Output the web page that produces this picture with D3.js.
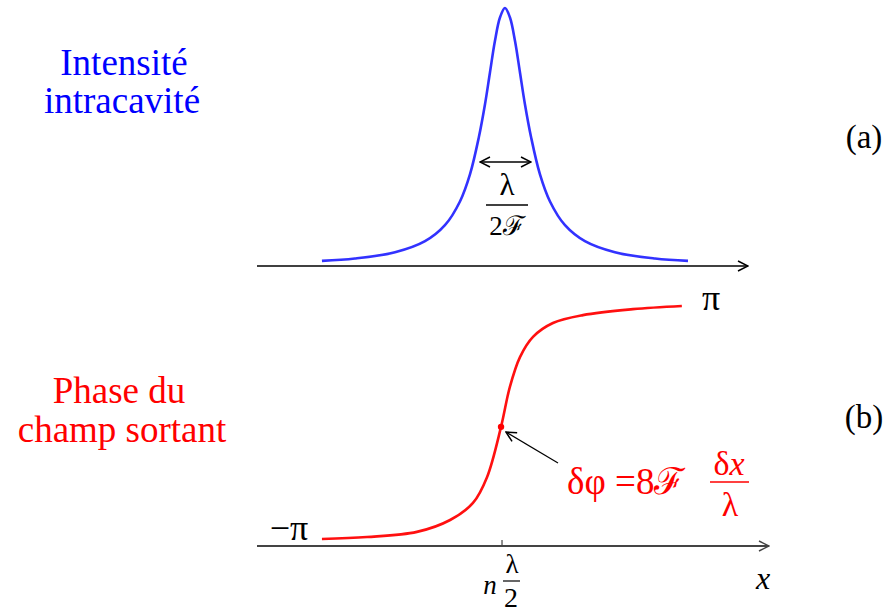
<!DOCTYPE html>
<html>
<head>
<meta charset="utf-8">
<script src="https://cdn.jsdelivr.net/npm/d3@7"></script>
<style>
  body { margin: 0; background: #fff; }
  text { font-family: "Liberation Serif", "Times New Roman", serif; }
</style>
</head>
<body>
<div id="chart"></div>
<script>
// intensite intracavite (lorentzienne), abscisses en unites arbitraires
var intensX = [-7.36, -6.02, -4.39, -3.17, -2.36, -1.75, -1.34, -0.98, -0.73, -0.53, -0.33, -0.12, 0.08,
               0.28, 0.49, 0.69, 0.89, 1.14, 1.50, 1.91, 2.52, 3.33, 4.55, 6.18, 7.52];
var intensY = [0.020, 0.029, 0.053, 0.096, 0.158, 0.250, 0.356, 0.500, 0.628, 0.750, 0.871, 0.964, 1.000,
               0.964, 0.871, 0.750, 0.628, 0.500, 0.356, 0.250, 0.158, 0.096, 0.053, 0.029, 0.020];

// phase du champ sortant (radians)
var phaseX = [-7.36, -5.53, -3.50, -2.15, -1.22, -0.65, -0.08, 0.28, 0.69, 1.22, 2.03, 3.25, 5.28, 7.27];
var phaseY = [-2.94, -2.89, -2.76, -2.46, -2.03, -1.38, -0.11, 0.90, 1.65, 2.16, 2.51, 2.71, 2.86, 2.94];

var resonance = -0.04;   // position n lambda/2
var pointX = -0.08, pointY = -0.11;

var W = 893, H = 613;
var svg = d3.select('#chart').append('svg')
    .attr('width', W).attr('height', H);

var defs = svg.append('defs');
function chevron(id, color) {
  defs.append('marker')
      .attr('id', id)
      .attr('viewBox', '0 0 12 12')
      .attr('refX', 11).attr('refY', 6)
      .attr('markerWidth', 12).attr('markerHeight', 12)
      .attr('markerUnits', 'userSpaceOnUse')
      .attr('orient', 'auto-start-reverse')
    .append('path')
      .attr('d', 'M1,1 L11,6 L1,11')
      .attr('fill', 'none')
      .attr('stroke', color)
      .attr('stroke-width', 1.5);
}
chevron('arrK', '#000');
chevron('arrG', '#444');

var x = d3.scaleLinear().domain([-10, 10]).range([257, 749]);
var yTop = d3.scaleLinear().domain([0, 1]).range([266, 8]);
var yBot = d3.scaleLinear().domain([-Math.PI, Math.PI]).range([547, 298]);

// axe du haut
svg.append('line')
    .attr('x1', 257).attr('x2', 748).attr('y1', 266).attr('y2', 266)
    .attr('stroke', '#000').attr('stroke-width', 1.5)
    .attr('marker-end', 'url(#arrK)');

// axe du bas
svg.append('line')
    .attr('x1', 257).attr('x2', 769).attr('y1', 546).attr('y2', 546)
    .attr('stroke', '#444').attr('stroke-width', 2)
    .attr('marker-end', 'url(#arrG)');
svg.append('line')
    .attr('x1', x(resonance)).attr('x2', x(resonance))
    .attr('y1', 540).attr('y2', 546)
    .attr('stroke', '#444').attr('stroke-width', 1.2);

// courbe d'intensite
var lineTop = d3.line()
    .x(function(d, i) { return x(intensX[i]); })
    .y(function(d) { return yTop(d); })
    .curve(d3.curveCatmullRom.alpha(0.5));
svg.append('path')
    .attr('d', lineTop(intensY))
    .attr('fill', 'none')
    .attr('stroke', '#3232ff')
    .attr('stroke-width', 2.6);

// courbe de phase
var lineBot = d3.line()
    .x(function(d, i) { return x(phaseX[i]); })
    .y(function(d) { return yBot(d); })
    .curve(d3.curveCatmullRom.alpha(0.5));
svg.append('path')
    .attr('d', lineBot(phaseY))
    .attr('fill', 'none')
    .attr('stroke', '#ff1010')
    .attr('stroke-width', 2.6);

svg.append('circle')
    .attr('cx', x(pointX)).attr('cy', yBot(pointY))
    .attr('r', 3.2).attr('fill', '#f00');

// largeur a mi-hauteur
svg.append('line')
    .attr('x1', 480).attr('x2', 531).attr('y1', 162).attr('y2', 162)
    .attr('stroke', '#000').attr('stroke-width', 1.3)
    .attr('marker-start', 'url(#arrK)')
    .attr('marker-end', 'url(#arrK)');

function txt(s, tx, ty, size, color, anchor, italic) {
  return svg.append('text')
      .attr('x', tx).attr('y', ty)
      .attr('font-size', size)
      .attr('fill', color || '#000')
      .attr('text-anchor', anchor || 'middle')
      .attr('font-style', italic ? 'italic' : 'normal')
      .text(s);
}

txt('λ', 507, 195, 31);
svg.append('line').attr('x1', 486).attr('x2', 528).attr('y1', 205).attr('y2', 205)
    .attr('stroke', '#000').attr('stroke-width', 1.3);
txt('2ℱ', 507, 235, 27);

// libelles de gauche
txt('Intensité', 124, 75, 37, '#0000ff');
txt('intracavité', 122, 113, 37, '#0000ff');
txt('Phase du', 119, 403, 37, '#ff0000');
txt('champ sortant', 122, 442, 37, '#ff0000');

txt('(a)', 864, 148, 33);
txt('(b)', 864, 428, 33);

// bornes de phase
txt('π', 711, 310, 36);
txt('−π', 289, 540, 36);

// etiquette de l'axe
txt('n', 490, 594, 27, '#000', 'middle', true);
txt('λ', 512, 573, 27);
svg.append('line').attr('x1', 503).attr('x2', 520).attr('y1', 581).attr('y2', 581)
    .attr('stroke', '#000').attr('stroke-width', 1.2);
txt('2', 511, 607, 28);
txt('x', 763, 589, 32, '#000', 'middle', true);

// annotation de la pente
svg.append('line')
    .attr('x1', 558).attr('y1', 463).attr('x2', 506).attr('y2', 432)
    .attr('stroke', '#000').attr('stroke-width', 1.2)
    .attr('marker-end', 'url(#arrK)');
txt('δφ =8ℱ', 567, 494, 37, '#ff0000', 'start');
var num = txt('δ', 729, 475, 34, '#ff0000');
num.append('tspan').attr('font-style', 'italic').text('x');
svg.append('line').attr('x1', 710).attr('x2', 749).attr('y1', 482).attr('y2', 482)
    .attr('stroke', '#ff0000').attr('stroke-width', 1.3);
txt('λ', 730, 516, 34, '#ff0000');
</script>
</body>
</html>
